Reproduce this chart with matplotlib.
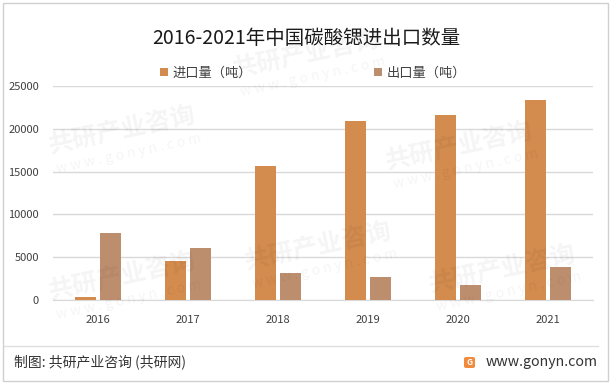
import matplotlib.pyplot as plt
import numpy as np
from matplotlib.patches import Rectangle, FancyBboxPatch

plt.rcParams['font.family'] = ['Noto Sans CJK SC', 'DejaVu Sans']

# Données
annees = ["2016", "2017", "2018", "2019", "2020", "2021"]
importations = [400, 4600, 15700, 20900, 21600, 23400]
exportations = [7800, 6100, 3100, 2700, 1800, 3900]

col_imp = "#D38B4E"
col_exp = "#BC8E6D"

fig = plt.figure(figsize=(6.13, 3.84), dpi=100)
ax = fig.add_axes([53/613, 1 - 300/384, 540/613, 214/384])

x = np.arange(len(annees))
w = 0.225
ax.bar(x - 0.14, importations, width=w, color=col_imp, label="进口量（吨）", zorder=3)
ax.bar(x + 0.14, exportations, width=w, color=col_exp, label="出口量（吨）", zorder=3)

ax.set_xlim(-0.5, len(annees) - 0.5)
ax.set_ylim(0, 25000)
ax.set_yticks(range(0, 25001, 5000))
ax.set_xticks(x)
ax.set_xticklabels(annees)
ax.tick_params(axis="both", length=0, labelsize=8, colors="#404040")
ax.tick_params(axis="x", pad=11)
ax.tick_params(axis="y", pad=10)
ax.grid(axis="y", color="#d9d9d9", linewidth=1, zorder=0)
for s in ["top", "right", "left"]:
    ax.spines[s].set_visible(False)
ax.spines["bottom"].set_color("#d9d9d9")
ax.set_facecolor("none")

# Filigrane (très léger), gardé à l'intérieur de la figure
for (wx, wy) in [(0.2, 0.66), (0.5, 0.86), (0.75, 0.62), (0.2, 0.28), (0.52, 0.36), (0.82, 0.3)]:
    fig.text(wx, wy, "共研产业咨询", fontsize=18, fontweight="bold", color="#000000",
             alpha=0.045, rotation=12, ha="center", va="center", zorder=0)
    fig.text(wx + 0.01, wy - 0.06, "w w w . g o n y n . c o m", fontsize=10, color="#000000",
             alpha=0.045, rotation=12, ha="center", va="center", zorder=0)

fig.text(0.5, 1 - 39/384, "2016-2021年中国碳酸锶进出口数量", ha="center", va="center",
         fontsize=14, color="#1a1a1a")

fig.legend(loc="center", bbox_to_anchor=(313/613, 1 - 73/384), ncol=2, frameon=False,
           fontsize=9.5, handlelength=0.6, handleheight=0.6, handletextpad=0.3,
           columnspacing=9.3, labelcolor="#404040")

# Pied de page
fig.add_artist(plt.Line2D([4/613, 598/613], [1 - 346/384, 1 - 346/384],
                          color="#e0e0e0", linewidth=1, transform=fig.transFigure))
fig.text(14/613, 1 - 362/384, "制图: 共研产业咨询 (共研网)", ha="left", va="center",
         fontsize=10, color="#333333")
fig.text(598/613, 1 - 362/384, "www.gonyn.com", ha="right", va="center",
         fontsize=10.2, color="#333333")
logo = FancyBboxPatch((464/613, 1 - 368/384), 11/613, 11/384,
                      boxstyle="round,pad=0,rounding_size=0.004",
                      transform=fig.transFigure, facecolor="#F08A3C", edgecolor="none")
fig.add_artist(logo)
fig.text(469.5/613, 1 - 362.5/384, "G", ha="center", va="center", fontsize=6,
         fontweight="bold", color="white")

# Cadre extérieur
fig.add_artist(Rectangle((3/613, 3/384), 605/613, 378/384, transform=fig.transFigure,
                         fill=False, edgecolor="#d0d0d0", linewidth=1))

fig.savefig("out.png", dpi=100)
